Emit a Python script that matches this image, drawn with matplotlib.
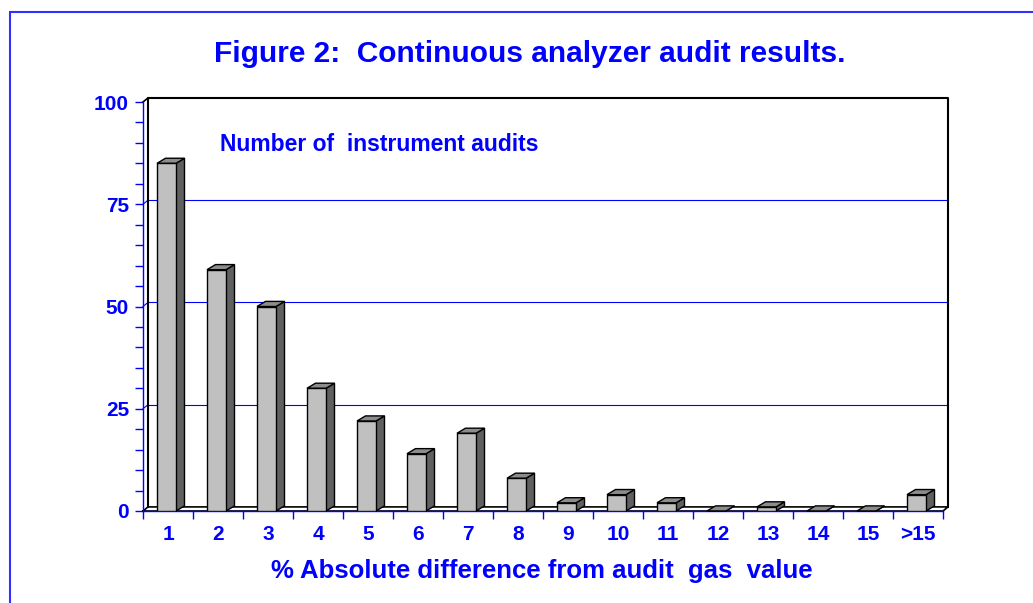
import matplotlib
matplotlib.use("Agg")
import matplotlib.pyplot as plt
from matplotlib.patches import Polygon, Rectangle
from matplotlib.ticker import MultipleLocator

categories = ["1", "2", "3", "4", "5", "6", "7", "8", "9", "10", "11", "12", "13", "14", "15", ">15"]
audits = [85, 59, 50, 30, 22, 14, 19, 8, 2, 4, 2, 0, 1, 0, 0, 4]
yticks = [0, 25, 50, 75, 100]

BLUE = "#0000FF"
FONT = ["Liberation Sans", "DejaVu Sans"]

fig = plt.figure(figsize=(10.33, 6.03), dpi=100)
fig.patch.set_facecolor("white")

# figure border (blue), running off right/bottom edges
fig.add_artist(Rectangle((10 / 1033, -0.05), 1.2, 1 - 12 / 603 + 0.05,
                         transform=fig.transFigure, fill=False,
                         edgecolor="#3030FF", lw=1.5))

ax = fig.add_axes([143 / 1033, (603 - 511) / 603, 800 / 1033, 409 / 603])
ax.set_xlim(-0.5, len(categories) - 0.5)
ax.set_ylim(0, 100)

# depth offsets (back wall) in data units
wdx, wdy = 0.1, 1.0
# bar depth offsets
bdx, bdy = 0.17, 1.25
bw = 0.38
n = len(categories)
x0, x1 = -0.5, n - 0.5

# back wall and floor
ax.plot([x0 + wdx, x0 + wdx, x1 + wdx, x1 + wdx], [wdy, 100 + wdy, 100 + wdy, wdy],
        color="black", lw=1.5, clip_on=False, zorder=2)
ax.plot([x0, x1, x1 + wdx, x0 + wdx, x0], [0, 0, wdy, wdy, 0],
        color="black", lw=1.2, clip_on=False, zorder=2)
ax.plot([x0, x0 + wdx], [100, 100 + wdy], color="black", lw=1.2, clip_on=False, zorder=2)

# gridlines on back wall
for v in yticks[1:-1]:
    ax.plot([x0 + wdx, x1 + wdx], [v + wdy, v + wdy], color=BLUE, lw=0.8, clip_on=False, zorder=1)
    ax.plot([x0, x0 + wdx], [v, v + wdy], color=BLUE, lw=0.8, clip_on=False, zorder=1)

# bars
xs = [i - 0.03 for i in range(n)]
ax.bar(xs, audits, width=bw, color="#C0C0C0", edgecolor="black", lw=1.0, zorder=5)
for x, v in zip(xs, audits):
    l, r = x - bw / 2, x + bw / 2
    top = Polygon([(l, v), (r, v), (r + bdx, v + bdy), (l + bdx, v + bdy)], closed=True,
                  facecolor="#8C8C8C", edgecolor="black", lw=1.0, zorder=4, clip_on=False)
    side = Polygon([(r, 0), (r + bdx, bdy), (r + bdx, v + bdy), (r, v)], closed=True,
                   facecolor="#606060", edgecolor="black", lw=1.0, zorder=4, clip_on=False)
    ax.add_patch(side)
    ax.add_patch(top)

# spines
for s in ["top", "right"]:
    ax.spines[s].set_visible(False)
ax.spines["left"].set_color(BLUE)
ax.spines["bottom"].set_color(BLUE)
ax.spines["left"].set_linewidth(1.0)
ax.spines["bottom"].set_linewidth(1.0)

ax.set_yticks(yticks)
ax.yaxis.set_minor_locator(MultipleLocator(5))
ax.set_xticks(range(n))
ax.set_xticklabels(categories)
ax.set_xticks([i - 0.5 for i in range(n + 1)], minor=True)
ax.tick_params(axis="x", which="major", length=0, pad=10)
ax.tick_params(axis="x", which="minor", length=6, color=BLUE, width=1.0)
ax.tick_params(axis="y", which="major", length=6, color=BLUE, width=1.0, pad=4)
ax.tick_params(axis="y", which="minor", length=6, color=BLUE, width=1.0)
for lab in ax.get_xticklabels() + ax.get_yticklabels():
    lab.set_fontfamily(FONT)
    lab.set_fontweight("bold")
    lab.set_fontsize(15)
    lab.set_color(BLUE)

fig.text(542 / 1033, 1 - 578 / 603, "% Absolute difference from audit  gas  value",
         fontfamily=FONT, fontweight="bold", fontsize=18.5, color=BLUE,
         ha="center", va="baseline")

fig.text(220 / 1033, 1 - 151 / 603, "Number of  instrument audits",
         fontfamily=FONT, fontweight="bold", fontsize=16.5, color=BLUE,
         ha="left", va="baseline")

fig.text(530 / 1033, 1 - 62 / 603, "Figure 2:  Continuous analyzer audit results.",
         fontfamily=FONT, fontweight="bold", fontsize=21.5, color=BLUE,
         ha="center", va="baseline")

fig.savefig("out.png", dpi=100, facecolor="white")
